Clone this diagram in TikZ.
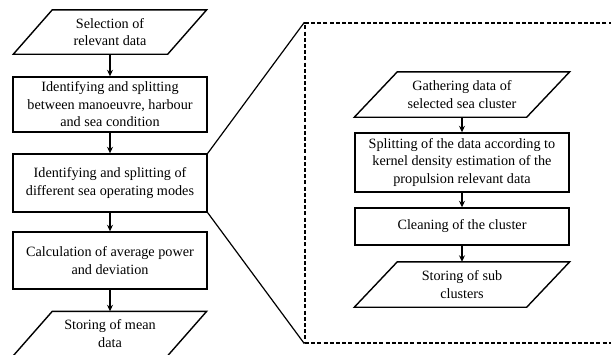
\documentclass[tikz,border=0pt]{standalone}
\usepackage{fontspec}
\setmainfont{Liberation Serif}
\usetikzlibrary{arrows.meta,calc}
\newcommand\drawpara[2]{%
  \draw[shapeline] ($(#1.north west)+(#2,0)$) -- ($(#1.north east)+(#2,0)$)
    -- ($(#1.south east)-(#2,0)$) -- ($(#1.south west)-(#2,0)$) -- cycle;}
\begin{document}
\begin{tikzpicture}[x=1pt,y=-1pt,
  lbl/.style={align=center,font=\fontsize{14.2}{17.5}\selectfont,inner sep=0pt},
  shapeline/.style={draw=black,line width=1.4pt,line join=miter},
  procbox/.style={lbl,shapeline,minimum width=194pt},
  procboxR/.style={lbl,shapeline,minimum width=214pt},
  datanode/.style={lbl,minimum width=154pt,minimum height=44pt},
  datanodeR/.style={lbl,minimum width=172pt,minimum height=45pt},
  conn/.style={draw=black,line width=1.3pt,-{Stealth[length=6.5pt,width=6pt]}},
  zoomline/.style={draw=black,line width=1.2pt},
  zoomframe/.style={draw=black,line width=1.3pt,dash pattern=on 4pt off 2.2pt,
    minimum width=310pt,minimum height=320pt,inner sep=0pt}]
\useasboundingbox (0,0) rectangle (611,354);
% left column
\node[datanode] (p1) at (110,32) {Selection of\\relevant data};
\drawpara{p1}{19.5}
\node[procbox,minimum height=55pt] (b2) at (110,104.5) {Identifying and splitting\\between manoeuvre, harbour\\and sea condition};
\node[procbox,minimum height=58pt] (b3) at (110,183) {Identifying and splitting of\\different sea operating modes};
\node[procbox,minimum height=57pt] (b4) at (110,260.5) {Calculation of average power\\and deviation};
\node[datanode] (p5) at (110,333.5) {Storing of mean\\data};
\drawpara{p5}{19.5}
\draw[conn] (p1.south) -- (b2.north);
\draw[conn] (b2.south) -- (b3.north);
\draw[conn] (b3.south) -- (b4.north);
\draw[conn] (b4.south) -- (p5.north);
% zoom frame
\node[zoomframe] (zf) at (460,183) {};
\draw[zoomline] (b3.north east) -- (zf.north west);
\draw[zoomline] (b3.south east) -- (zf.south west);
% right column
\node[datanodeR] (pA) at (462,94.5) {Gathering data of\\selected sea cluster};
\drawpara{pA}{21.5}
\node[procboxR,minimum height=59pt] (bB) at (462,162.5) {Splitting of the data according to\\kernel density estimation of the\\propulsion relevant data};
\node[procboxR,minimum height=37pt] (bC) at (462,226.5) {Cleaning of the cluster};
\node[datanodeR] (pD) at (462,284.5) {Storing of sub\\clusters};
\drawpara{pD}{21.5}
\draw[conn] (pA.south) -- (bB.north);
\draw[conn] (bB.south) -- (bC.north);
\draw[conn] (bC.south) -- (pD.north);
\end{tikzpicture}
\end{document}
